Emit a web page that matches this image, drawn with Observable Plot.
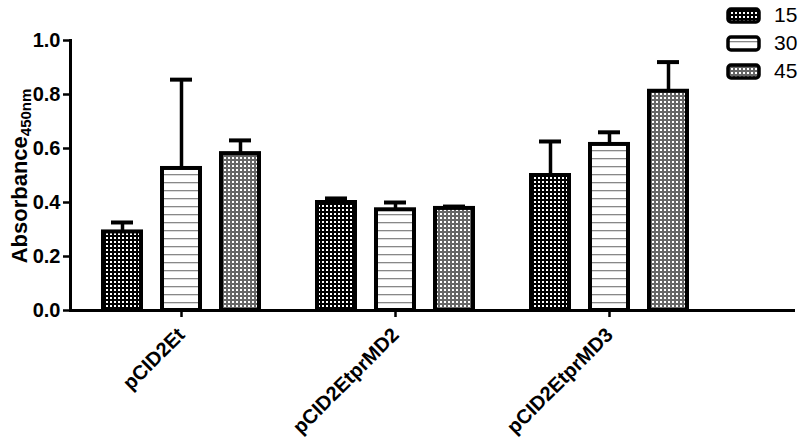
<!DOCTYPE html>
<html>
<head>
<meta charset="utf-8">
<script src="https://cdn.jsdelivr.net/npm/d3@7"></script>
<script src="https://cdn.jsdelivr.net/npm/@observablehq/plot@0.6"></script>
<style>
  html, body { margin: 0; padding: 0; background: #fff; }
  #wrap { position: relative; width: 800px; height: 439px; overflow: hidden; font-family: "Liberation Sans", Arial, sans-serif; }
  #legend { position: absolute; left: 726px; top: 1px; }
  .li { position: absolute; left: 0; display: flex; align-items: center; height: 28px; white-space: nowrap; }
  .li span { font-size: 21px; margin-left: 13px; color: #000; }
</style>
</head>
<body>
<div id="wrap"></div>
<script>
// ---- data ----
const groups = ["pCID2Et", "pCID2EtprMD2", "pCID2EtprMD3"];
const series = ["15", "30", "45"];
const mean15 = [0.291, 0.400, 0.500];
const mean30 = [0.526, 0.373, 0.615];
const mean45 = [0.581, 0.378, 0.812];
const err15 = [0.035, 0.015, 0.126];
const err30 = [0.329, 0.027, 0.045];
const err45 = [0.049, 0.007, 0.108];
const yTicks = [0, 0.2, 0.4, 0.6, 0.8, 1.0];

const means = {"15": mean15, "30": mean30, "45": mean45};
const errs = {"15": err15, "30": err30, "45": err45};
const rows = series.flatMap(s => groups.map((g, i) => ({group: g, series: s, value: means[s][i], top: means[s][i] + errs[s][i]})));

const offsets = {"15": -59, "30": 0, "45": 59};
const font = "Liberation Sans, Arial, sans-serif";

const marks = [];
for (const s of series) {
  const d = rows.filter(r => r.series === s);
  marks.push(Plot.ruleX(d, {x: "group", y1: "value", y2: "top", dx: offsets[s], stroke: "black", strokeWidth: 3.5}));
  marks.push(Plot.tickY(d, {x: "group", y: "top", dx: offsets[s], stroke: "black", strokeWidth: 4, insetLeft: 96, insetRight: 96}));
  marks.push(Plot.barY(d, {x: "group", y: "value", dx: offsets[s], fill: `url(#p${s})`, stroke: "black", strokeWidth: 4, insetLeft: 88, insetRight: 88}));
}

const chart = Plot.plot({
  width: 800,
  height: 439,
  marginLeft: 70,
  marginRight: 5,
  marginTop: 40,
  marginBottom: 129,
  style: {fontFamily: font, background: "white", color: "black"},
  x: {domain: groups, range: [74, 716], padding: 0},
  y: {domain: [0, 1]},
  marks: [
    ...marks,
    Plot.ruleY([0], {stroke: "black", strokeWidth: 3}),
    Plot.frame({anchor: "left", stroke: "black", strokeWidth: 3}),
    Plot.axisY({ticks: yTicks, tickFormat: d3.format(".1f"), tickSize: 7, tickPadding: 3, fontSize: 20, fontWeight: "bold", strokeWidth: 2.5, label: null}),
    Plot.axisX({tickRotate: -45, tickSize: 7, tickPadding: 14, fontSize: 20, fontWeight: "bold", strokeWidth: 2.5, label: null})
  ]
});

// patterns
const svg = d3.select(chart);
const defs = svg.insert("defs", ":first-child");
const p15 = defs.append("pattern").attr("id", "p15").attr("patternUnits", "userSpaceOnUse").attr("width", 4).attr("height", 4);
p15.append("rect").attr("width", 4).attr("height", 4).attr("fill", "#000");
p15.append("rect").attr("x", 1).attr("y", 1).attr("width", 2).attr("height", 2).attr("fill", "#fff");
const p30 = defs.append("pattern").attr("id", "p30").attr("patternUnits", "userSpaceOnUse").attr("width", 8).attr("height", 8);
p30.append("rect").attr("width", 8).attr("height", 8).attr("fill", "#fff");
p30.append("rect").attr("y", 6).attr("width", 8).attr("height", 1.3).attr("fill", "#888");
const p45 = defs.append("pattern").attr("id", "p45").attr("patternUnits", "userSpaceOnUse").attr("width", 4).attr("height", 4);
p45.append("rect").attr("width", 4).attr("height", 4).attr("fill", "#666");
p45.append("rect").attr("x", 1).attr("y", 1).attr("width", 2).attr("height", 2).attr("fill", "#fff");

// y label with subscript
const lab = svg.append("text")
  .attr("transform", "translate(27,176) rotate(-90)")
  .attr("text-anchor", "middle")
  .attr("font-family", font)
  .attr("font-weight", "bold")
  .attr("font-size", 22)
  .attr("fill", "black");
lab.append("tspan").text("Absorbance");
lab.append("tspan").attr("font-size", 15).attr("dy", 4).text("450nm");

const wrap = document.getElementById("wrap");
wrap.appendChild(chart);

// legend
const legend = document.createElement("div");
legend.id = "legend";
series.forEach((s, i) => {
  const item = document.createElement("div");
  item.className = "li";
  item.style.top = (i * 28) + "px";
  item.innerHTML = `<svg width="35" height="17"><rect x="2" y="2" width="31" height="13" rx="3" fill="url(#p${s})" stroke="black" stroke-width="3.5"/></svg><span>${s}</span>`;
  legend.appendChild(item);
});
wrap.appendChild(legend);
</script>
</body>
</html>
